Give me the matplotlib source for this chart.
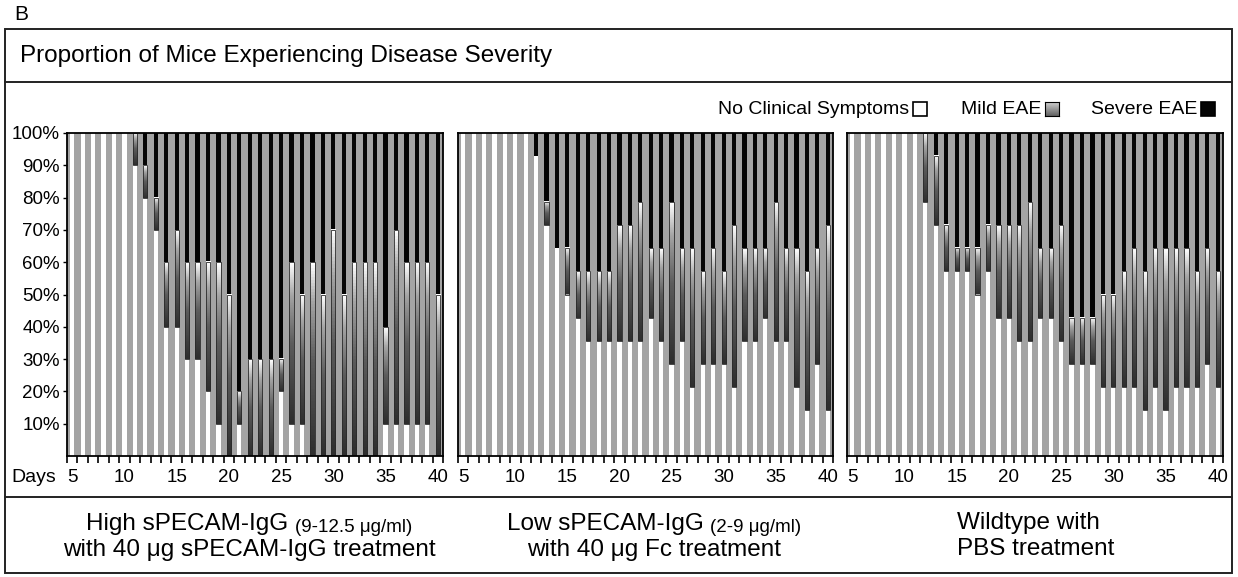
import numpy as np
import matplotlib
matplotlib.use('Agg')
import matplotlib.pyplot as plt
from matplotlib.colors import LinearSegmentedColormap
from matplotlib.patches import Rectangle
from matplotlib.lines import Line2D

plt.rcParams['font.family'] = ['Liberation Sans', 'DejaVu Sans']

days = list(range(5, 41))

# number of mice per group, and per day how many had no symptoms / mild EAE
# (the rest of the group had severe EAE)
high_n = 10
high_none = [10, 10, 10, 10, 10, 10, 9, 8, 7, 4, 4, 3, 3, 2, 1, 0, 1, 0,
             0, 0, 2, 1, 1, 0, 0, 0, 0, 0, 0, 0, 1, 1, 1, 1, 1, 0]
high_mild = [0, 0, 0, 0, 0, 0, 1, 1, 1, 2, 3, 3, 3, 4, 5, 5, 1, 3,
             3, 3, 1, 5, 4, 6, 5, 7, 5, 6, 6, 6, 3, 6, 5, 5, 5, 5]

low_n = 14
low_none = [14, 14, 14, 14, 14, 14, 14, 13, 10, 9, 7, 6, 5, 5, 5, 5, 5, 5,
            6, 5, 4, 5, 3, 4, 4, 4, 3, 5, 5, 6, 5, 5, 3, 2, 4, 2]
low_mild = [0, 0, 0, 0, 0, 0, 0, 0, 1, 0, 2, 2, 3, 3, 3, 5, 5, 6,
            3, 4, 7, 4, 6, 4, 5, 4, 7, 4, 4, 3, 6, 4, 6, 6, 5, 8]

wt_n = 14
wt_none = [14, 14, 14, 14, 14, 14, 14, 11, 10, 8, 8, 8, 7, 8, 6, 6, 5, 5,
           6, 6, 5, 4, 4, 4, 3, 3, 3, 3, 2, 3, 2, 3, 3, 3, 4, 3]
wt_mild = [0, 0, 0, 0, 0, 0, 0, 3, 3, 2, 1, 1, 2, 2, 4, 4, 5, 6,
           3, 3, 5, 2, 2, 2, 4, 4, 5, 6, 6, 6, 7, 6, 6, 5, 5, 5]

groups = [
    (high_n, high_none, high_mild),
    (low_n, low_none, low_mild),
    (wt_n, wt_none, wt_mild),
]

title = 'Proportion of Mice Experiencing Disease Severity'
legend_labels = ['No Clinical Symptoms', 'Mild EAE', 'Severe EAE']
sub_main = ['High sPECAM-IgG ', 'Low sPECAM-IgG ', 'Wildtype with']
sub_small = ['(9-12.5 \u03bcg/ml)', '(2-9 \u03bcg/ml)', '']
sub_line2 = ['with 40 \u03bcg sPECAM-IgG treatment', 'with 40 \u03bcg Fc treatment',
             'PBS treatment']

W, H = 1238, 577
fig = plt.figure(figsize=(W / 100, H / 100), dpi=100)


def fx(x):
    return x / W


def fy(y):
    return 1 - y / H


GRAY = '#a4a4a4'
mild_cmap = LinearSegmentedColormap.from_list(
    'mild', [(0, '#2e2e2e'), (0.5, '#5c5c5c'), (0.8, '#a4a4a4'), (1, '#ffffff')])
grad = np.linspace(0, 1, 64).reshape(-1, 1)

# frame of the figure
fig.add_artist(Rectangle((fx(5), fy(573)), fx(1232) - fx(5), fy(29) - fy(573),
                         transform=fig.transFigure, fill=False, lw=1.4, ec='#222222'))
for yy in (82, 497):
    fig.add_artist(Line2D([fx(5), fx(1232)], [fy(yy), fy(yy)],
                          transform=fig.transFigure, lw=1.4, color='#222222'))

fig.text(fx(14), fy(14), 'B', fontsize=15, va='center', ha='left')
fig.text(fx(20), fy(56), title, fontsize=17.5, va='center', ha='left')

panels = [(67, 443), (458, 833), (847, 1223)]
top, bottom = 133, 456
bw = 0.4

for p, ((x0, x1), (n, none, mild)) in enumerate(zip(panels, groups)):
    ax = fig.add_axes([fx(x0), fy(bottom), (x1 - x0) / W, (bottom - top) / H])
    ax.set_facecolor(GRAY)
    none_pct = np.array(none) / n * 100
    mild_pct = np.array(mild) / n * 100
    sev_pct = 100 - none_pct - mild_pct
    x = np.arange(len(days))
    ax.bar(x, none_pct, width=bw, color='white', lw=0, zorder=2)
    ax.bar(x, sev_pct, width=bw, bottom=none_pct + mild_pct, color='#050505', lw=0, zorder=2)
    for i in x:
        if mild_pct[i] > 0:
            ax.imshow(grad, cmap=mild_cmap, origin='lower', aspect='auto', zorder=3,
                      extent=(i - bw / 2, i + bw / 2, none_pct[i], none_pct[i] + mild_pct[i]))
            ax.add_patch(Rectangle((i - bw / 2, none_pct[i]), bw, mild_pct[i], fill=False,
                                   ec='#2a2a2a', lw=0.6, zorder=4))
    ax.set_xlim(-0.5, len(days) - 0.5)
    ax.set_ylim(0, 100)
    for s in ax.spines.values():
        s.set_linewidth(1.3)
        s.set_zorder(5)
    lab_idx = [i for i, d in enumerate(days) if d % 5 == 0]
    ax.set_xticks(lab_idx)
    ax.set_xticklabels([str(days[i]) for i in lab_idx], fontsize=13.5)
    ax.tick_params(axis='x', which='major', length=0, pad=9)
    ax.set_xticks(np.arange(len(days) + 1) - 0.5, minor=True)
    ax.tick_params(axis='x', which='minor', length=5, width=1.2, direction='out')
    if p == 0:
        ax.set_yticks(range(10, 101, 10))
        ax.set_yticklabels(['%d%%' % v for v in range(10, 101, 10)], fontsize=13.5)
        ax.tick_params(axis='y', length=3, width=1, pad=2)
    else:
        ax.set_yticks([])

fig.text(fx(56), fy(477), 'Days', fontsize=14, ha='right', va='center')

# legend
leg = [(909, 913, 'white'), (1041, 1045, None), (1197, 1201, '#050505')]
for (tx, sx, col), lab in zip(leg, legend_labels):
    fig.text(fx(tx), fy(109), lab, fontsize=14, ha='right', va='center')
    if col is None:
        lax = fig.add_axes([fx(sx), fy(116), 14 / W, 14 / H])
        lax.imshow(grad, cmap=LinearSegmentedColormap.from_list('lg', ['#606060', '#d0d0d0']),
                   origin='lower', aspect='auto')
        lax.set_xticks([])
        lax.set_yticks([])
        for s in lax.spines.values():
            s.set_linewidth(0.8)
    else:
        fig.add_artist(Rectangle((fx(sx), fy(116)), 14 / W, 14 / H, transform=fig.transFigure,
                                 fc=col, ec='black', lw=1.2))

# group descriptions under each panel
renderer = fig.canvas.get_renderer()
centers = [249, 654, None]
for k in range(3):
    if centers[k] is None:
        fig.text(fx(957), fy(523), sub_main[k], fontsize=17.5, ha='left', va='center')
        fig.text(fx(957), fy(549), sub_line2[k], fontsize=17.5, ha='left', va='center')
        continue
    t1 = fig.text(0, fy(523), sub_main[k], fontsize=17.5, ha='left', va='baseline')
    t2 = fig.text(0, fy(523), sub_small[k], fontsize=13.5, ha='left', va='baseline')
    w1 = t1.get_window_extent(renderer).width
    w2 = t2.get_window_extent(renderer).width
    start = centers[k] - (w1 + w2) / 2
    t1.set_position((fx(start), fy(530)))
    t2.set_position((fx(start + w1), fy(532)))
    fig.text(fx(centers[k]), fy(550), sub_line2[k], fontsize=17.5, ha='center', va='center')

fig.savefig('out.png', dpi=100)
